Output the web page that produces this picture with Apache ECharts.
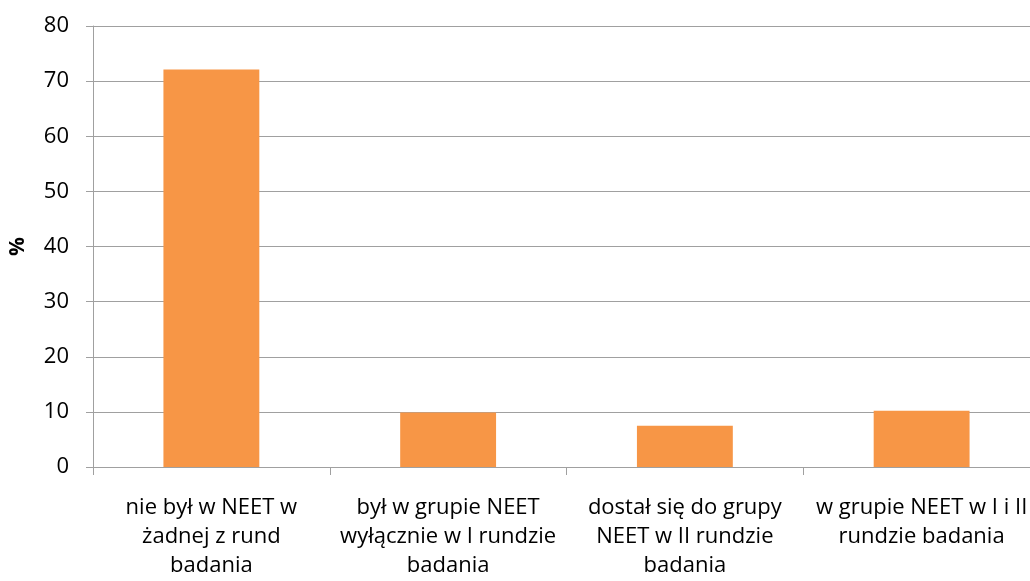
<!DOCTYPE html>
<html>
<head>
<meta charset="utf-8">
<script src="https://cdn.jsdelivr.net/npm/echarts@6/dist/echarts.min.js"></script>
<style>
  html, body { margin: 0; padding: 0; background: #fff; }
  #chart { width: 1030px; height: 581px; }
</style>
</head>
<body>
<div id="chart"></div>
<script>
// kategorie (z podziałem wierszy jak na wykresie)
var categories = [
  "nie był w NEET w\nżadnej z rund\nbadania",
  "był w grupie NEET\nwyłącznie w I rundzie\nbadania",
  "dostał się do grupy\nNEET w II rundzie\nbadania",
  "w grupie NEET w I i II\nrundzie badania"
];
var values = [72.1, 9.9, 7.5, 10.2];
var yTicks = [0, 10, 20, 30, 40, 50, 60, 70, 80];

var myChart = echarts.init(document.getElementById("chart"));
var axisColor = "#a0a0a0";
var font = "'Open Sans', 'Liberation Sans', sans-serif";

var option = {
  animation: false,
  grid: {
    left: 93,
    top: 26,
    right: -10,
    bottom: 114,
    outerBoundsMode: "none",
    containLabel: false
  },
  xAxis: {
    type: "category",
    data: categories,
    axisLine: { lineStyle: { color: axisColor, width: 1 } },
    axisTick: { show: true, length: 8, lineStyle: { color: axisColor } },
    axisLabel: {
      interval: 0,
      color: "#000",
      fontFamily: font,
      fontSize: 22,
      lineHeight: 29,
      margin: 26
    }
  },
  yAxis: {
    type: "value",
    min: yTicks[0],
    max: yTicks[yTicks.length - 1],
    interval: 10,
    name: "%",
    nameLocation: "middle",
    nameRotate: 90,
    nameGap: 64,
    nameTextStyle: { color: "#000", fontFamily: font, fontSize: 21, fontWeight: "bold" },
    axisLine: { show: true, lineStyle: { color: axisColor, width: 1 } },
    axisTick: { show: true, length: 7, lineStyle: { color: axisColor } },
    axisLabel: { color: "#000", fontFamily: font, fontSize: 22, margin: 24 },
    splitLine: { lineStyle: { color: axisColor, width: 1 } }
  },
  series: [
    {
      type: "bar",
      data: values,
      barWidth: "40.5%",
      itemStyle: { color: "#f79646" }
    }
  ]
};

myChart.setOption(option);
window.onresize = myChart.resize;
</script>
</body>
</html>
